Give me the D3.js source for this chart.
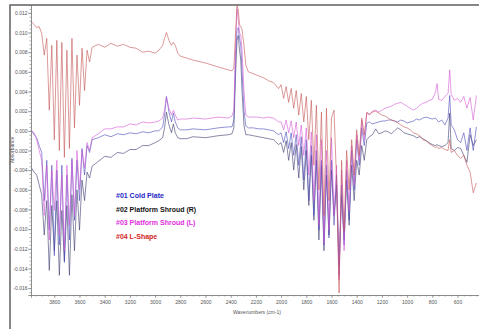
<!DOCTYPE html>
<html>
<head>
<meta charset="utf-8">
<script src="https://cdn.jsdelivr.net/npm/d3@7"></script>
<style>
  body { margin: 0; background: #fff; }
  text { font-family: "Liberation Sans", Arial, sans-serif; }
</style>
</head>
<body>
<div id="chart"></div>
<script>
// wavenumber grid (cm-1), shared by all four spectra
const wavenumbers = [
  4000,3980,3960,3940,3920,3900,3880,3860,3840,3820,3800,3780,3760,3740,3720,3700,3680,3660,3640,3620,3600,3580,3560,3540,3520,3500,
  3450,3400,3350,3300,3250,3200,3150,3100,3050,3000,
  2970,2940,2925,2910,2890,2870,2855,2840,2820,2800,
  2750,2700,2600,2500,2420,2390,
  2375,2360,2350,2340,2330,2320,2310,2295,2280,2260,
  2220,2180,2140,2100,2060,2020,
  2000,1980,1960,1940,1920,1900,1880,1860,1840,1820,1800,1780,1760,1740,1720,1700,1680,1660,1640,1620,1600,1580,1560,1540,1520,1500,1480,1460,1440,1420,1400,1380,1360,1340,1320,1300,
  1275,1250,1225,1200,1175,1150,1125,1100,1075,1050,1025,1000,975,950,925,900,875,850,825,800,775,762,750,725,700,675,662,650,625,600,575,550,525,500,475,450
];

const coldPlate = [
  0.0001,0.0000,-0.0004,-0.0007,-0.0015,-0.0022,-0.0071,-0.0030,-0.0101,-0.0035,-0.0127,-0.0040,-0.0116,-0.0035,-0.0134,-0.0045,-0.0111,-0.0028,-0.0091,-0.0030,-0.0071,-0.0018,-0.0045,-0.0015,-0.0022,-0.0009,
  -0.0007,-0.0004,-0.0006,-0.0003,-0.0004,-0.0002,-0.0003,-0.0001,-0.0002,0.0000,
  0.0000,0.0004,0.0016,0.0035,0.0019,0.0009,0.0018,0.0009,0.0003,0.0001,
  0.0001,0.0002,0.0001,0.0003,0.0004,0.0004,
  0.0011,0.0077,0.0103,0.0105,0.0094,0.0087,0.0062,0.0021,0.0005,0.0003,
  0.0003,0.0002,0.0002,0.0001,0.0000,-0.0004,
  -0.0002,-0.0012,-0.0001,-0.0018,-0.0002,-0.0025,-0.0004,-0.0035,-0.0006,-0.0050,-0.0009,-0.0071,-0.0015,-0.0086,-0.0020,-0.0101,-0.0030,-0.0116,-0.0035,-0.0109,-0.0030,-0.0096,-0.0045,-0.0147,-0.0055,-0.0116,-0.0040,-0.0091,-0.0020,-0.0060,-0.0009,-0.0035,0.0003,-0.0015,0.0008,0.0009,
  0.0007,0.0008,0.0009,0.0010,0.0010,0.0011,0.0011,0.0010,0.0009,0.0011,0.0010,0.0008,0.0009,0.0010,0.0012,0.0011,0.0013,0.0014,0.0013,0.0012,0.0013,0.0011,0.0009,0.0011,0.0006,0.0013,0.0036,0.0006,0.0001,-0.0009,-0.0012,-0.0002,-0.0020,0.0003,-0.0020,0.0004
];

const shroudR = [
  -0.0038,-0.0038,-0.0042,-0.0045,-0.0055,-0.0065,-0.0106,-0.0071,-0.0142,-0.0076,-0.0122,-0.0071,-0.0147,-0.0081,-0.0132,-0.0076,-0.0147,-0.0065,-0.0122,-0.0060,-0.0101,-0.0050,-0.0071,-0.0042,-0.0048,-0.0036,
  -0.0031,-0.0026,-0.0027,-0.0022,-0.0023,-0.0019,-0.0019,-0.0015,-0.0015,-0.0012,
  -0.0010,-0.0007,0.0003,0.0019,0.0006,-0.0002,0.0007,-0.0002,-0.0007,-0.0008,
  -0.0008,-0.0006,-0.0007,-0.0005,-0.0004,-0.0003,
  0.0003,0.0062,0.0092,0.0097,0.0082,0.0072,0.0041,0.0006,-0.0004,-0.0004,
  -0.0005,-0.0006,-0.0007,-0.0008,-0.0009,-0.0014,
  -0.0012,-0.0022,-0.0010,-0.0030,-0.0012,-0.0040,-0.0014,-0.0048,-0.0016,-0.0060,-0.0020,-0.0076,-0.0025,-0.0091,-0.0030,-0.0111,-0.0035,-0.0122,-0.0045,-0.0106,-0.0040,-0.0086,-0.0055,-0.0137,-0.0065,-0.0111,-0.0050,-0.0096,-0.0035,-0.0071,-0.0030,-0.0045,-0.0015,-0.0030,-0.0009,-0.0006,
  -0.0004,0.0002,-0.0003,-0.0002,0.0000,-0.0001,-0.0003,0.0000,0.0003,0.0001,-0.0002,-0.0003,-0.0004,-0.0005,-0.0007,-0.0006,-0.0008,-0.0010,-0.0012,-0.0014,-0.0015,-0.0014,-0.0015,-0.0016,-0.0015,-0.0012,0.0018,-0.0018,-0.0020,-0.0017,-0.0018,-0.0025,-0.0032,-0.0004,-0.0015,-0.0009
];

const shroudL = [
  0.0000,0.0000,-0.0002,-0.0009,-0.0020,-0.0030,-0.0086,-0.0035,-0.0111,-0.0040,-0.0081,-0.0030,-0.0106,-0.0045,-0.0122,-0.0035,-0.0096,-0.0030,-0.0086,-0.0020,-0.0060,-0.0020,-0.0038,-0.0012,-0.0020,-0.0007,
  -0.0003,0.0002,0.0002,0.0004,0.0004,0.0007,0.0006,0.0009,0.0008,0.0009,
  0.0010,0.0013,0.0021,0.0034,0.0023,0.0016,0.0021,0.0016,0.0011,0.0012,
  0.0012,0.0013,0.0012,0.0014,0.0013,0.0015,
  0.0021,0.0092,0.0124,0.0113,0.0100,0.0097,0.0082,0.0041,0.0016,0.0014,
  0.0014,0.0014,0.0013,0.0014,0.0013,0.0009,
  0.0009,0.0001,0.0011,-0.0002,0.0010,-0.0007,0.0009,-0.0015,0.0006,-0.0025,0.0003,-0.0045,-0.0001,-0.0071,-0.0004,-0.0096,-0.0009,-0.0115,-0.0020,-0.0101,-0.0007,-0.0086,-0.0035,-0.0152,-0.0040,-0.0122,-0.0030,-0.0081,-0.0015,-0.0055,-0.0004,-0.0030,0.0011,-0.0009,0.0018,0.0016,
  0.0020,0.0021,0.0019,0.0021,0.0023,0.0024,0.0025,0.0027,0.0028,0.0029,0.0027,0.0025,0.0023,0.0021,0.0023,0.0026,0.0028,0.0029,0.0031,0.0032,0.0039,0.0048,0.0032,0.0031,0.0035,0.0038,0.0062,0.0037,0.0031,0.0033,0.0029,0.0035,0.0023,0.0034,0.0011,0.0036
];

const lShape = [
  0.0113,0.0111,0.0108,0.0105,0.0106,0.0099,0.0077,0.0094,0.0021,0.0087,-0.0009,0.0092,-0.0020,0.0090,-0.0027,0.0082,-0.0018,0.0094,0.0003,0.0077,0.0026,0.0084,0.0041,0.0082,0.0070,0.0085,
  0.0088,0.0085,0.0089,0.0086,0.0088,0.0085,0.0084,0.0080,0.0081,0.0079,
  0.0082,0.0087,0.0094,0.0100,0.0092,0.0087,0.0090,0.0087,0.0079,0.0076,
  0.0074,0.0072,0.0069,0.0065,0.0062,0.0061,
  0.0064,0.0103,0.0127,0.0123,0.0108,0.0106,0.0103,0.0087,0.0067,0.0060,
  0.0058,0.0056,0.0054,0.0051,0.0049,0.0043,
  0.0047,0.0033,0.0045,0.0029,0.0043,0.0023,0.0041,0.0016,0.0038,0.0009,0.0035,-0.0009,0.0031,-0.0035,0.0026,-0.0060,0.0019,-0.0086,0.0023,-0.0071,0.0013,0.0021,-0.0050,-0.0165,-0.0030,-0.0101,-0.0020,-0.0060,-0.0009,-0.0045,0.0001,-0.0025,0.0013,-0.0004,0.0019,0.0017,
  0.0019,0.0020,0.0018,0.0016,0.0015,0.0013,0.0011,0.0010,0.0008,0.0006,0.0004,0.0003,0.0001,-0.0002,-0.0003,-0.0005,-0.0009,-0.0010,-0.0013,-0.0015,-0.0017,-0.0016,-0.0018,-0.0017,-0.0019,-0.0020,-0.0009,-0.0022,-0.0020,-0.0025,-0.0028,-0.0025,-0.0035,-0.0042,-0.0063,-0.0053
];

const seriesNames = ['#01 Cold Plate', '#02 Platform Shroud (R)', '#03 Platform Shroud (L)', '#04 L-Shape'];
const xTicks = [3800, 3600, 3400, 3200, 3000, 2800, 2600, 2400, 2200, 2000, 1800, 1600, 1400, 1200, 1000, 800, 600];
const yTicks = [0.012, 0.010, 0.008, 0.006, 0.004, 0.002, 0.000, -0.002, -0.004, -0.006, -0.008, -0.010, -0.012, -0.014, -0.016];

const W = 479, H = 329;
const margin = { left: 31, right: 482.7, top: 5, bottom: 295 };

const svg = d3.select('#chart').append('svg')
  .attr('width', W)
  .attr('height', H);

svg.append('rect').attr('width', W).attr('height', H).attr('fill', '#fff');

// outer frame of the report window
svg.append('rect')
  .attr('x', 10).attr('y', 5)
  .attr('width', W + 10).attr('height', H + 10)
  .attr('fill', 'none')
  .attr('stroke', '#6a6a6a')
  .attr('stroke-width', 1.6);

const x = d3.scaleLinear().domain([3985, 400]).range([margin.left, margin.right]);
const y = d3.scaleLinear().domain([-0.0167, 0.0128]).range([margin.bottom, margin.top]);

svg.append('defs').append('clipPath').attr('id', 'plot')
  .append('rect')
  .attr('x', margin.left).attr('y', margin.top)
  .attr('width', W - margin.left).attr('height', margin.bottom - margin.top);

// spectra (drawn back to front)
const line = d3.line()
  .x((d, i) => x(wavenumbers[i]))
  .y(d => y(d));

const spectra = [
  { values: shroudR, color: '#38386e' },
  { values: coldPlate, color: '#4747b8' },
  { values: shroudL, color: '#d456d4' },
  { values: lShape, color: '#c45252' }
];

const plot = svg.append('g').attr('clip-path', 'url(#plot)');
spectra.forEach(s => {
  plot.append('path')
    .datum(s.values)
    .attr('fill', 'none')
    .attr('stroke', s.color)
    .attr('stroke-width', 0.7)
    .attr('stroke-opacity', 0.85)
    .attr('stroke-linejoin', 'round')
    .attr('d', line);
});

// axes
const yAxis = svg.append('g')
  .attr('transform', 'translate(' + margin.left + ',0)')
  .call(d3.axisLeft(y).tickValues(yTicks).tickSize(3).tickFormat(d => d.toFixed(3)));
svg.append('g')
  .attr('transform', 'translate(' + margin.left + ',0)')
  .call(d3.axisLeft(y).tickValues(d3.range(-0.0164, 0.0128, 0.0004)).tickSize(1.5).tickFormat(''));

const xAxis = svg.append('g')
  .attr('transform', 'translate(0,' + margin.bottom + ')')
  .call(d3.axisBottom(x).tickValues(xTicks).tickSize(3).tickFormat(d3.format('d')));
svg.append('g')
  .attr('transform', 'translate(0,' + margin.bottom + ')')
  .call(d3.axisBottom(x).tickValues(d3.range(3950, 420, -50)).tickSize(1.5).tickFormat(''));

svg.selectAll('.domain, .tick line').attr('stroke', '#777').attr('stroke-width', 0.6);
svg.selectAll('.tick text')
  .attr('fill', '#555')
  .style('font-size', '5px');
yAxis.selectAll('.tick text').attr('x', -3.5);
xAxis.selectAll('.tick text').attr('y', 5);

svg.append('text')
  .attr('transform', 'translate(14,150) rotate(-90)')
  .attr('text-anchor', 'middle')
  .attr('fill', '#555')
  .style('font-size', '5px')
  .text('Absorbance');

svg.append('text')
  .attr('x', 257).attr('y', 314)
  .attr('text-anchor', 'middle')
  .attr('fill', '#555')
  .style('font-size', '5px')
  .text('Wavenumbers (cm-1)');

// legend
const legendColors = ['#2525c8', '#111111', '#e02ee0', '#d42424'];
svg.append('g').selectAll('text')
  .data(seriesNames)
  .join('text')
  .attr('x', 116)
  .attr('y', (d, i) => 198 + i * 13.7)
  .attr('fill', (d, i) => legendColors[i])
  .style('font-size', '7px')
  .style('font-weight', 'bold')
  .text(d => d);
</script>
</body>
</html>
